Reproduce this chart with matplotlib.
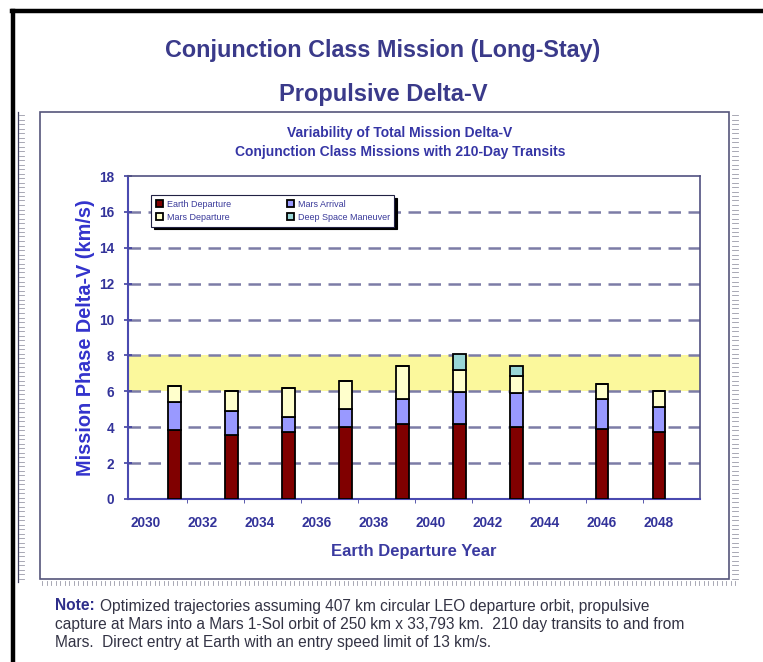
import matplotlib
matplotlib.use("Agg")
import matplotlib.pyplot as plt
from matplotlib.lines import Line2D
from matplotlib.patches import Rectangle
import numpy as np

plt.rcParams['font.family'] = ['Liberation Sans', 'DejaVu Sans']

# ---------------- data ----------------
years = [2031, 2033, 2035, 2037, 2039, 2041, 2043, 2046, 2048]
earth_departure = [3.82, 3.58, 3.72, 4.00, 4.19, 4.19, 4.00, 3.91, 3.72]
mars_arrival = [1.58, 1.35, 0.84, 1.03, 1.40, 1.77, 1.90, 1.68, 1.40]
mars_departure = [0.88, 1.08, 1.62, 1.54, 1.82, 1.21, 0.95, 0.80, 0.89]
deep_space_maneuver = [0.00, 0.00, 0.00, 0.00, 0.00, 0.93, 0.56, 0.00, 0.00]
series_names = ["Earth Departure", "Mars Arrival", "Mars Departure", "Deep Space Maneuver"]
x_ticks = [2030, 2032, 2034, 2036, 2038, 2040, 2042, 2044, 2046, 2048]
y_ticks = [0, 2, 4, 6, 8, 10, 12, 14, 16, 18]
band = (6, 8)

title1 = "Conjunction Class Mission (Long-Stay)"
title2 = "Propulsive Delta-V"
sub1 = "Variability of Total Mission Delta-V"
sub2 = "Conjunction Class Missions with 210-Day Transits"
note_lines = [
    "Optimized trajectories assuming 407 km circular LEO departure orbit, propulsive",
    "capture at Mars into a Mars 1-Sol orbit of 250 km x 33,793 km.  210 day transits to and from",
    "Mars.  Direct entry at Earth with an entry speed limit of 13 km/s.",
]

colors = ['#800000', '#9999ff', '#ffffcc', '#99d6d6']

W, H = 763, 662
fig = plt.figure(figsize=(W / 100, H / 100), dpi=100)
fig.patch.set_facecolor('white')

def fx(px):
    return px / W

def fy(py):
    return 1 - py / H

# ---------- decorations (frames) ----------
fig.add_artist(Line2D([fx(13), fx(13)], [fy(11), fy(662)], color='black', lw=3.2, transform=fig.transFigure))
fig.add_artist(Line2D([fx(12), fx(763)], [fy(11), fy(11)], color='black', lw=3.2, transform=fig.transFigure))
fig.add_artist(Rectangle((fx(40), fy(579)), fx(729) - fx(40), fy(112) - fy(579),
                         fill=False, edgecolor='#55557a', lw=1.2, transform=fig.transFigure))
fig.add_artist(Line2D([fx(18), fx(18)], [fy(112), fy(582)], color='#444466', lw=0.9, transform=fig.transFigure))
for yy in np.arange(115, 580, 4.5):
    fig.add_artist(Line2D([fx(19), fx(24)], [fy(yy), fy(yy)], color='#9a9aa8', lw=0.6, transform=fig.transFigure))
    fig.add_artist(Line2D([fx(732), fx(738)], [fy(yy), fy(yy)], color='#9a9aa8', lw=0.6, transform=fig.transFigure))
for xx in np.arange(42, 736, 4.5):
    fig.add_artist(Line2D([fx(xx), fx(xx)], [fy(581), fy(585)], color='#9a9aa8', lw=0.6, transform=fig.transFigure))

# ---------- titles ----------
fig.text(fx(383), fy(51), title1, ha='center', va='center', fontsize=16.8, fontweight='bold', color='#3a3a8a')
fig.text(fx(383), fy(94), title2, ha='center', va='center', fontsize=17, fontweight='bold', color='#3a3a8a')
fig.text(fx(400), fy(133), sub1, ha='center', va='center', fontsize=10, fontweight='bold', color='#3535a5')
fig.text(fx(400), fy(152), sub2, ha='center', va='center', fontsize=10, fontweight='bold', color='#3535a5')

# ---------- axes ----------
ax_l, ax_r, ax_t, ax_b = 128, 700, 176, 499
ax = fig.add_axes([fx(ax_l), fy(ax_b), fx(ax_r) - fx(ax_l), fy(ax_t) - fy(ax_b)])
ax.set_xlim(2029.37, 2049.44)
ax.set_ylim(0, 18)

ax.axhspan(band[0], band[1], color='#fbf89c', zorder=0, lw=0)
for yv in y_ticks[1:-1]:
    ax.axhline(yv, color='#7c7ca6', lw=1.8, ls=(0, (5, 3)), zorder=1)

bw = 0.43
bottom = np.zeros(len(years))
series = [earth_departure, mars_arrival, mars_departure, deep_space_maneuver]
handles = []
for vals, c, name in zip(series, colors, series_names):
    v = np.array(vals)
    h = ax.bar(years, v, bw, bottom=bottom, color=c, edgecolor='black', linewidth=1.3, zorder=3,
               label=name)
    handles.append(h)
    bottom = bottom + v

ax.set_yticks(y_ticks)
ax.set_xticks(x_ticks)
ax.set_xticks([y + 1.45 for y in x_ticks[:-1]], minor=True)
ax.tick_params(axis='x', which='major', length=0, pad=12, labelsize=9.8, labelcolor='#33339a')
ax.tick_params(axis='x', which='minor', length=3, direction='out', color='#4040a0')
ax.tick_params(axis='y', which='major', length=6, direction='inout', color='#4040a0', width=1.2,
               labelsize=9.8, labelcolor='#33339a', pad=7)
for lab in ax.get_xticklabels() + ax.get_yticklabels():
    lab.set_fontweight('bold')

for s in ['left', 'bottom']:
    ax.spines[s].set_color('#4a4ab0')
    ax.spines[s].set_linewidth(1.5)
for s in ['top', 'right']:
    ax.spines[s].set_color('#505080')
    ax.spines[s].set_linewidth(1.2)

ax.set_ylabel("Mission Phase Delta-V (km/s)", fontsize=14.3, fontweight='bold', color='#3333cc', labelpad=3)
ax.set_xlabel("Earth Departure Year", fontsize=12, fontweight='bold', color='#3a3aa0', labelpad=10)

order = [0, 2, 1, 3]
leg = ax.legend([handles[i] for i in order], [series_names[i] for i in order], ncol=2,
                loc='upper left', bbox_to_anchor=(0.033, 0.955), fontsize=6.5,
                frameon=True, fancybox=False, shadow={'color': 'black', 'alpha': 1.0},
                handlelength=0.8, handleheight=0.8, handletextpad=0.4, columnspacing=6.2,
                labelspacing=0.5, borderpad=0.5, labelcolor='#3a3a9a')
leg.get_frame().set_edgecolor('#222244')
leg.get_frame().set_linewidth(0.8)
leg.set_zorder(5)

# ---------- note ----------
fig.text(fx(55), fy(606), "Note:", ha='left', va='center', fontsize=11.2, fontweight='bold', color='#2e2e8a')
fig.text(fx(100), fy(606), note_lines[0], ha='left', va='center', fontsize=11.2, color='#333344')
fig.text(fx(55), fy(624), note_lines[1], ha='left', va='center', fontsize=11.2, color='#333344')
fig.text(fx(55), fy(642), note_lines[2], ha='left', va='center', fontsize=11.2, color='#333344')

fig.savefig('out.png', dpi=100, facecolor='white')
